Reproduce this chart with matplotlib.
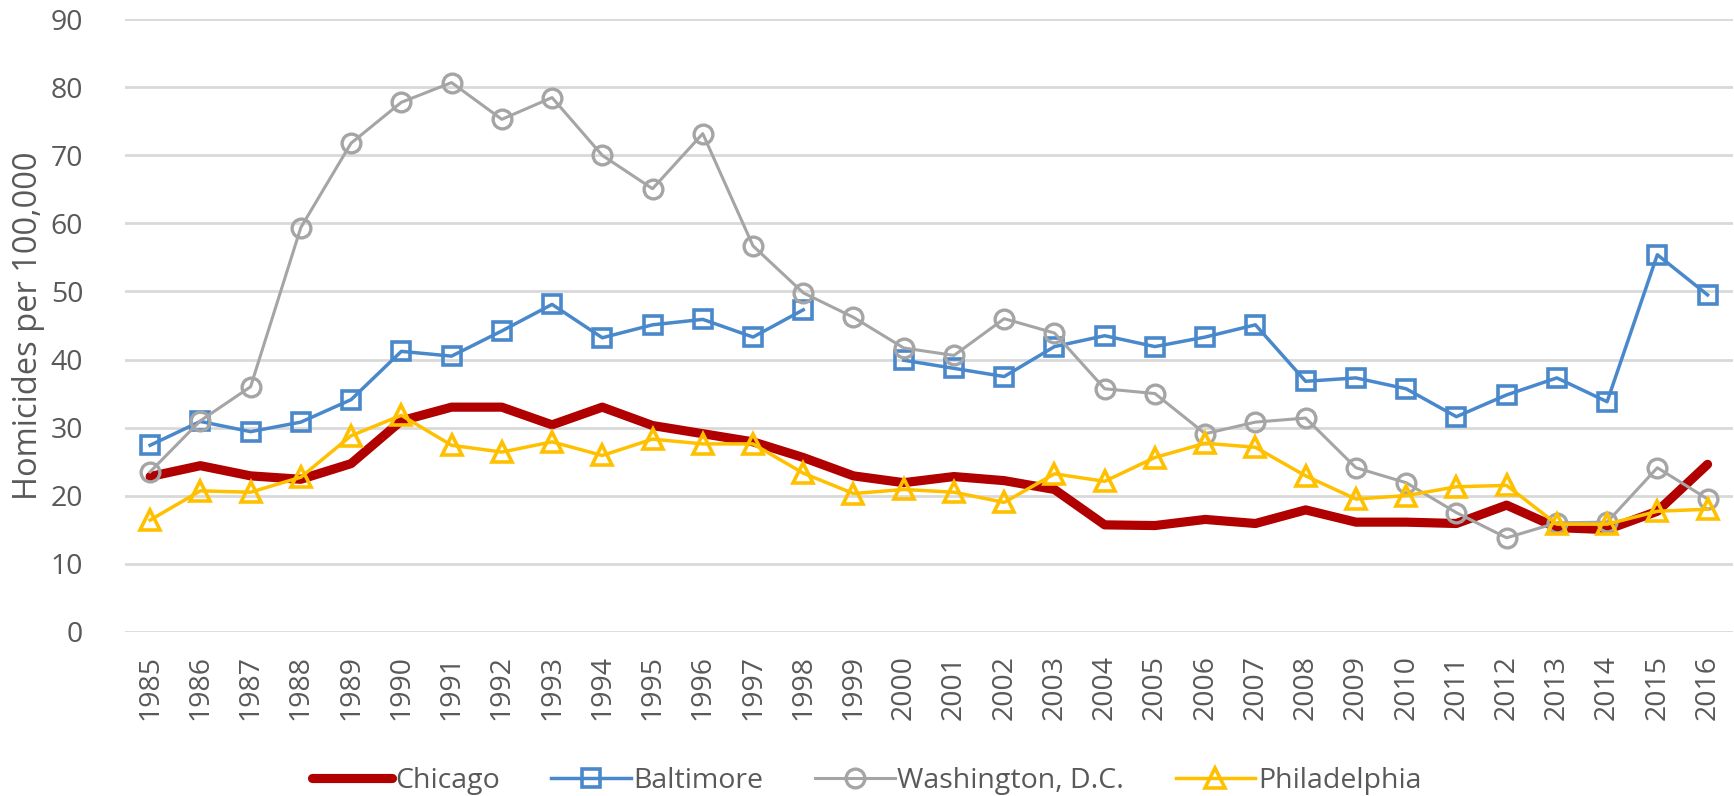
import numpy as np
import matplotlib
matplotlib.use("Agg")
import matplotlib.pyplot as plt

years = [str(y) for y in range(1985, 2017)]

chicago = [22.8, 24.4, 22.9, 22.4, 24.7, 31.0, 33.0, 33.0, 30.4, 33.0,
           30.3, 29.1, 27.9, 25.6, 22.9, 21.9, 22.8, 22.2, 20.9, 15.7,
           15.6, 16.5, 15.9, 17.9, 16.1, 16.1, 15.9, 18.6, 15.3, 15.0,
           17.7, 24.6]
baltimore = [27.4, 30.9, 29.4, 30.8, 34.1, 41.2, 40.5, 44.2, 48.1, 43.2,
             45.1, 45.9, 43.3, 47.3, np.nan, 39.9, 38.7, 37.5, 41.9, 43.5,
             41.9, 43.3, 45.1, 36.8, 37.3, 35.7, 31.6, 34.8, 37.3, 33.8,
             55.4, 49.5]
washington = [23.5, 31.0, 36.0, 59.4, 71.8, 77.8, 80.7, 75.3, 78.5, 70.0,
              65.1, 73.2, 56.7, 49.8, 46.2, 41.7, 40.6, 46.0, 43.9, 35.7,
              35.0, 29.1, 30.8, 31.4, 24.1, 21.9, 17.5, 13.8, 16.0, 16.1,
              24.1, 19.5]
philadelphia = [16.4, 20.7, 20.5, 22.7, 28.8, 31.8, 27.4, 26.4, 27.9, 25.9,
                28.3, 27.6, 27.6, 23.3, 20.3, 20.9, 20.5, 19.0, 23.2, 22.1,
                25.6, 27.7, 27.1, 22.9, 19.5, 20.0, 21.3, 21.5, 15.8, 15.8,
                17.7, 18.0]
yticks = [0, 10, 20, 30, 40, 50, 60, 70, 80, 90]

plt.rcParams['font.family'] = ['Open Sans', 'DejaVu Sans']
TXT = '#595959'

W, H = 1734, 796
fig = plt.figure(figsize=(W / 100, H / 100), dpi=100)
ax = fig.add_axes([125 / W, 1 - 631.7 / H, 1607.7 / W, 612.4 / H])

x = np.arange(len(years))
ax.plot(x, chicago, color='#B00000', lw=6.6, solid_capstyle='round',
        solid_joinstyle='round', label='Chicago', zorder=3)
ax.plot(x, baltimore, color='#4A88CC', lw=2.5, marker='s', ms=12.5,
        mfc='none', mec='#4A88CC', mew=2.6, label='Baltimore', zorder=4)
ax.plot(x, washington, color='#A5A5A5', lw=2.2, marker='o', ms=13.5,
        mfc='none', mec='#A5A5A5', mew=2.4, label='Washington, D.C.', zorder=5)
ax.plot(x, philadelphia, color='#FFC000', lw=2.5, marker='^', ms=14,
        mfc='none', mec='#FFC000', mew=2.6, label='Philadelphia', zorder=6)

ax.set_xlim(-0.5, len(years) - 0.5)
ax.set_ylim(0, 90)
ax.set_yticks(yticks)
ax.set_xticks(x)
ax.set_xticklabels(years, rotation=90)
ax.grid(axis='y', color='#D9D9D9', lw=2.0, zorder=0)
ax.set_axisbelow(True)
for s in ax.spines.values():
    s.set_visible(False)
ax.tick_params(axis='both', length=0, labelsize=20.5, colors=TXT)
ax.tick_params(axis='y', pad=30)
ax.tick_params(axis='x', pad=17)

fig.text(29 / W, 1 - 325.5 / H, 'Homicides per 100,000', rotation=90,
         ha='center', va='center', fontsize=23.5, color=TXT)

leg = fig.legend(loc='center', bbox_to_anchor=(0.5, 1 - 781 / H), ncol=4,
                 frameon=False, fontsize=20.5, handlelength=2.8,
                 handletextpad=0.1, columnspacing=1.8, borderpad=0)
for t in leg.get_texts():
    t.set_color(TXT)

fig.savefig('out.png', dpi=100)
